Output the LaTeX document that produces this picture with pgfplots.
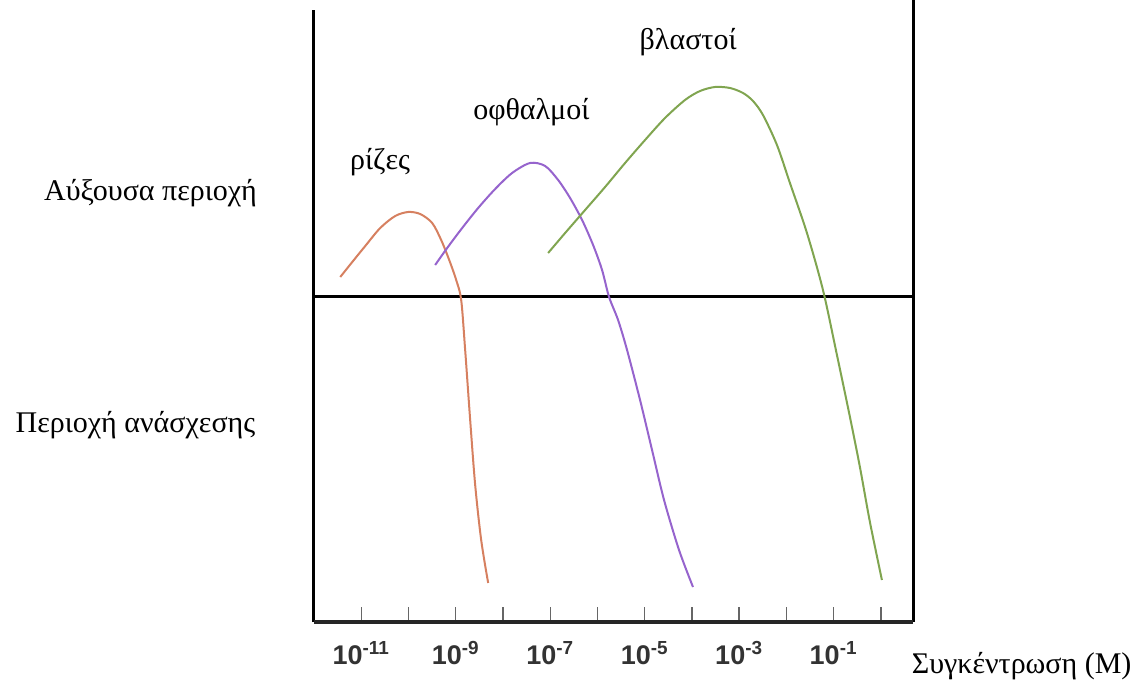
\documentclass[border=0pt]{standalone}
\usepackage{fontspec}
\setmainfont{Liberation Serif}
\newfontfamily\tickfont{Liberation Sans}
\usepackage{pgfplots}
\pgfplotsset{compat=1.18}
\definecolor{roots}{RGB}{214,128,96}
\definecolor{buds}{RGB}{150,100,205}
\definecolor{shoots}{RGB}{128,165,80}
\begin{document}
\begin{tikzpicture}
\begin{axis}[
  scale only axis,
  width=299.5pt, height=311pt,
  xmin=-12, xmax=0.68,
  ymin=-326, ymax=296,
  clip=false,
  axis line style={draw=none},
  ytick=\empty,
  xtick={-11,...,0},
  xticklabels={10\textsuperscript{-11},,10\textsuperscript{-9},,10\textsuperscript{-7},,10\textsuperscript{-5},,10\textsuperscript{-3},,10\textsuperscript{-1},},
  xtick pos=bottom,
  tick align=inside,
  major tick length=7.5pt,
  tick style={black!60, line width=0.7pt},
  xticklabel style={font=\tickfont\bfseries\fontsize{13.5}{15}\selectfont, text=black!80, yshift=-6pt},
]
% axes frame
\draw[line width=1.5pt] (axis cs:-12,-326) -- (axis cs:-12,286);
\draw[line width=1.5pt] (axis cs:0.68,-326) -- (axis cs:0.68,296);
\draw[line width=1.8pt, black!85] (axis cs:-12,-326) -- (axis cs:0.68,-326);
\draw[line width=1.5pt] (axis cs:-12,0) -- (axis cs:0.68,0);

% roots
\addplot[roots, line width=1pt, smooth] coordinates {
(-11.444,19) (-11.190,34) (-10.915,50) (-10.598,68) (-10.281,80) (-10.006,84)
(-9.752,82) (-9.498,73) (-9.308,56) (-9.138,36) (-8.990,16) (-8.884,-4)
(-8.800,-54) (-8.694,-124) (-8.588,-189) (-8.461,-244) (-8.313,-287)};
% buds
\addplot[buds, line width=1pt, smooth] coordinates {
(-9.435,31) (-9.181,48) (-8.863,68) (-8.525,88) (-8.165,107) (-7.806,123)
(-7.425,133) (-7.107,130) (-6.832,116) (-6.579,98) (-6.325,76) (-6.092,51)
(-5.902,26) (-5.754,-1) (-5.563,-24) (-5.373,-54) (-5.098,-104) (-4.844,-154)
(-4.590,-204) (-4.273,-254) (-3.977,-291)};
% shoots
\addplot[shoots, line width=1pt, smooth] coordinates {
(-7.044,43) (-6.684,63) (-6.261,86) (-5.838,109) (-5.415,133) (-4.992,156)
(-4.569,178) (-4.146,196) (-3.828,205) (-3.511,209) (-3.194,208) (-2.919,203)
(-2.707,195) (-2.496,181) (-2.200,151) (-1.925,113) (-1.565,63) (-1.226,6)
(-0.930,-59) (-0.655,-121) (-0.444,-171) (-0.232,-226) (0.022,-284)};

\node[anchor=base, font=\fontsize{15}{18}\selectfont] at (axis cs:-10.6,126) {ρίζες};
\node[anchor=base, font=\fontsize{15}{18}\selectfont] at (axis cs:-7.40,176) {οφθαλμοί};
\node[anchor=base, font=\fontsize{15}{18}\selectfont] at (axis cs:-4.08,246) {βλαστοί};
\node[anchor=base, font=\fontsize{15}{18}\selectfont] at (axis cs:-15.46,96) {Αύξουσα περιοχή};
\node[anchor=base, font=\fontsize{15}{18}\selectfont] at (axis cs:-15.78,-136) {Περιοχή ανάσχεσης};
\node[anchor=base, font=\fontsize{15}{18}\selectfont] at (axis cs:2.98,-377) {Συγκέντρωση (Μ)};
\end{axis}
\pgfresetboundingbox
\path[use as bounding box] (current axis.south west) ++(-157pt,-29.5pt) rectangle ++(571.5pt,340.5pt);
\end{tikzpicture}
\end{document}
